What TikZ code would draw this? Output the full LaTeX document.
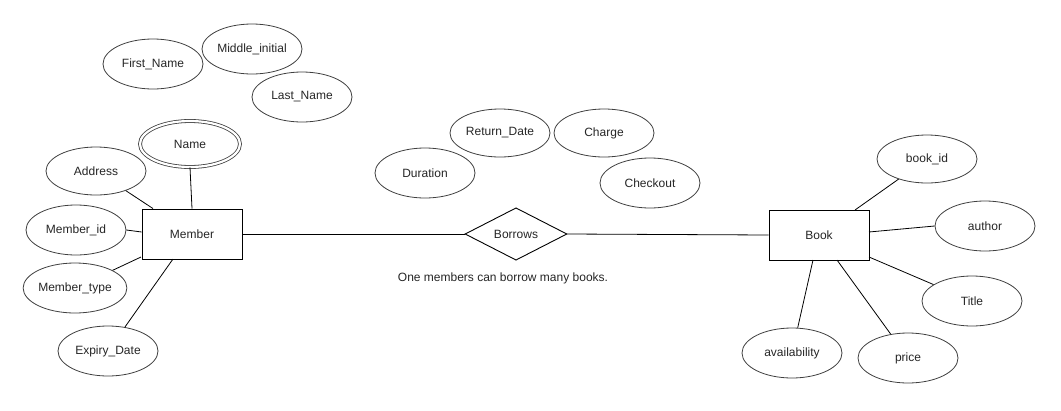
\documentclass[tikz,border=0pt]{standalone}
\usepackage{fontspec}
\setmainfont{Liberation Sans}
\usetikzlibrary{shapes.geometric}
\begin{document}
\begin{tikzpicture}[x=1pt,y=-1pt,
  every node/.style={font=\fontsize{12}{14}\selectfont, text=black!85},
  attr/.style={ellipse, draw=black!75, line width=0.8pt, minimum width=100, minimum height=50, inner sep=0},
  ent/.style={rectangle, draw=black, line width=0.9pt, minimum width=100, minimum height=50, inner sep=0},
  rel/.style={diamond, draw=black, line width=0.9pt, minimum width=102, minimum height=50, inner sep=0},
  conn/.style={draw=black, line width=0.8pt}]
\useasboundingbox (0,0) rectangle (1061,410);
\fill[white] (0,0) rectangle (1061,410);
% entities
\node[ent] (member) at (192,234) {Member};
\node[ent] (book) at (819,235) {Book};
\node[rel] (borrows) at (516,234) {Borrows};
% member attributes
\node[attr] (first) at (153,64) {First\_Name};
\node[attr] (middle) at (252,49) {Middle\_initial};
\node[attr] (last) at (302,97) {Last\_Name};
\node[attr, minimum height=46, double=white, double distance=2.2pt] (name) at (190,144) {Name};
\node[attr, minimum height=48] (address) at (96,171) {Address};
\node[attr] (mid) at (76,230) {Member\_id};
\node[attr] (mtype) at (75,288) {Member\_type};
\node[attr] (expiry) at (108,351) {Expiry\_Date};
% relationship attributes
\node[attr, minimum height=48] (ret) at (500,133) {Return\_Date};
\node[attr, minimum height=48] (charge) at (604,133) {Charge};
\node[attr] (duration) at (425,173) {Duration};
\node[attr] (checkout) at (650,183) {Checkout};
% book attributes
\node[attr, minimum height=48] (bookid) at (927,159) {book\_id};
\node[attr] (author) at (985,226) {author};
\node[attr] (title) at (972,301) {Title};
\node[attr] (avail) at (792,353) {availability};
\node[attr] (price) at (908,358) {price};
% note
\node (note) at (503,278) {One members can borrow many books.};
% connectors
\draw[conn] (name.south) -- (member.north);
\draw[conn] (address) -- (member.north west -| 153,209);
\draw[conn] (mid.east) -- (member.west |- 0,232);
\draw[conn] (mtype) -- (141,257);
\draw[conn] (expiry) -- (173,259);
\draw[conn] (member.east) -- (borrows.west);
\draw[conn] (borrows.east) -- (book.west);
\draw[conn] (bookid) -- (855,210);
\draw[conn] (author.west) -- (869,232);
\draw[conn] (title) -- (869,257);
\draw[conn] (avail) -- (813,260);
\draw[conn] (price) -- (837,260);
\end{tikzpicture}
\end{document}
